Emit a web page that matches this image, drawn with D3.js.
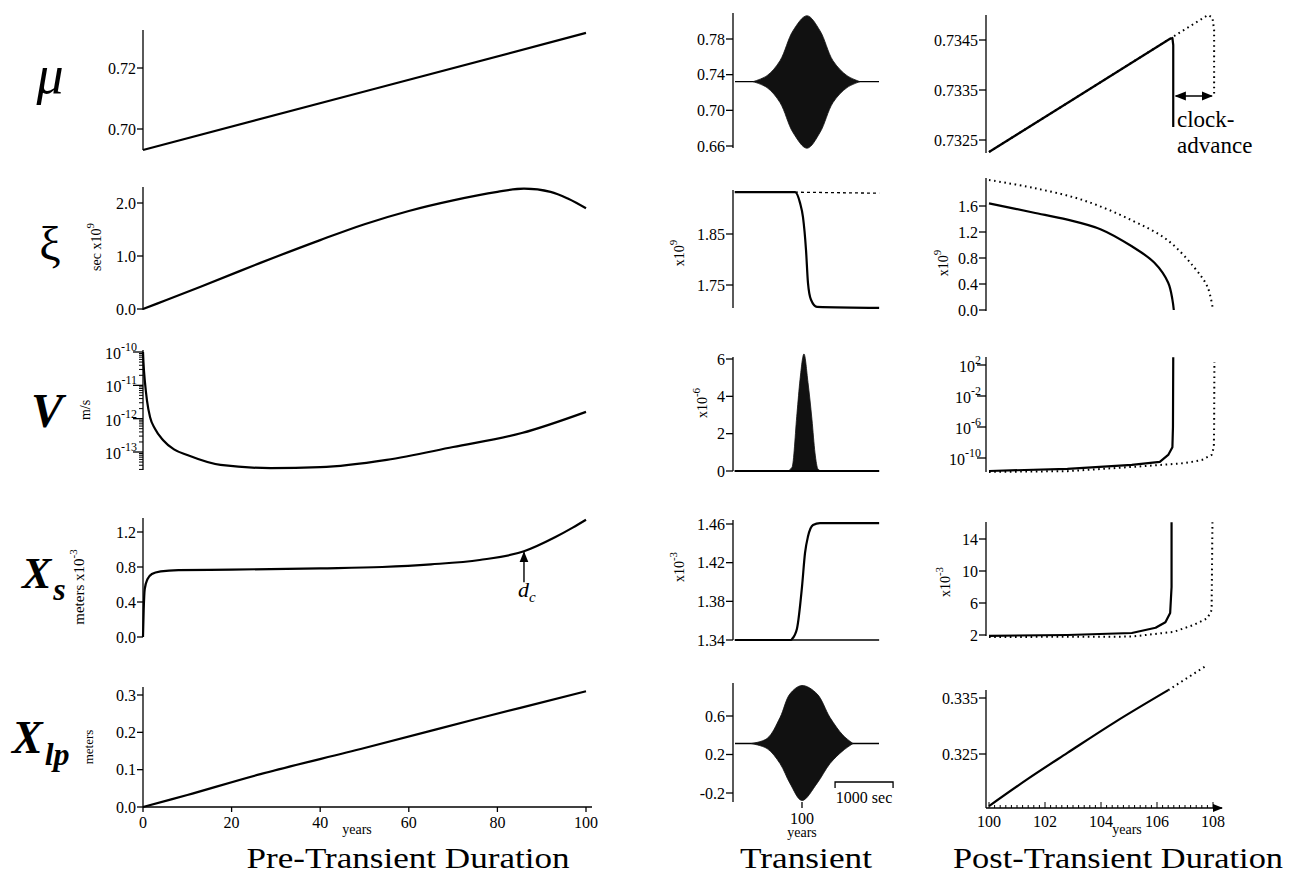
<!DOCTYPE html>
<html lang="en">
<head>
<meta charset="UTF-8" />
<title>Slip transient - pre, during and post</title>
<script src="https://d3js.org/d3.v7.min.js"></script>
<style>
  body { margin: 0; background: #fff; }
  svg { font-family: "Liberation Serif", "Times New Roman", serif; }
  .tick-label { font-size: 16px; fill: #000; }
  .axis-line { stroke: #000; stroke-width: 1.3px; fill: none; }
  .curve { fill: none; stroke: #000; stroke-width: 2.2px; stroke-linejoin: round; }
  .thin { fill: none; stroke: #000; stroke-width: 1.4px; }
  .dotted { fill: none; stroke: #000; stroke-width: 2px; stroke-dasharray: 1.6 3.6; }
  .dashed { fill: none; stroke: #000; stroke-width: 1.3px; stroke-dasharray: 3 3; }
  .osc { fill: #111; stroke: #111; stroke-width: 0.8px; }
</style>
</head>
<body>
<svg id="chart" width="1296" height="879"></svg>
<script>
// ---------------- data ----------------
// pre-transient duration, [years, value]
const muPre = [[0, 0.6931], [50, 0.7123], [100, 0.7315]];
const xiPre = [[0, 0], [5, 0.16], [13, 0.42], [26.5, 0.87], [40, 1.3], [50, 1.6], [60, 1.85],
  [70, 2.05], [80, 2.21], [86, 2.27], [92, 2.21], [96, 2.08], [100, 1.9]];
const vPre = [[0, 1e-10], [0.1, 5e-11], [0.45, 1.2e-11], [0.9, 3.5e-12], [1.6, 1.1e-12],
  [2.7, 5e-13], [4.5, 2.3e-13], [7, 1.2e-13], [10, 8.1e-14], [17.5, 4.1e-14], [28.8, 3.3e-14],
  [40, 3.5e-14], [55, 5.8e-14], [70, 1.41e-13], [85.5, 3.7e-13], [100, 1.6e-12]];
const xsPre = [[0, 0], [0.15, 0.3], [0.4, 0.55], [1, 0.66], [2, 0.72], [4, 0.75], [8, 0.765],
  [20, 0.77], [40, 0.785], [54, 0.8], [65, 0.83], [76, 0.88], [86, 0.98], [93, 1.14],
  [97, 1.25], [100, 1.34]];
const xlpPre = [[0, 0], [10, 0.032], [26.5, 0.088], [50, 0.158], [75, 0.235], [100, 0.31]];
const dcYear = 86;

// transient, seconds around the 100 year mark, [sec, lower, upper] for oscillation envelopes
const muTrBase = 0.7322;
const muTrEnvelope = [[-845, 0.7322, 0.7322], [-603, 0.7255, 0.7389], [-379, 0.7087, 0.7557],
  [-155, 0.6751, 0.7893], [86, 0.6575, 0.8061], [310, 0.6751, 0.7893], [534, 0.7087, 0.7557],
  [776, 0.7255, 0.7389], [1000, 0.7322, 0.7322]];
const xiTr = [[-1160, 1.932], [-121, 1.932], [-34, 1.911], [17, 1.883], [69, 1.819],
  [103, 1.754], [155, 1.721], [259, 1.707], [1330, 1.705]];
const xiTrNoSlip = [[-121, 1.932], [1330, 1.93]];
const vTr = [[-1160, 0], [-260, 0], [-172, 0.2], [-86, 3.1], [-34, 4.9], [34, 6.27], [103, 4.75],
  [172, 2.75], [224, 0.97], [276, 0.1], [340, 0], [1330, 0]];
const xsTr = [[-1160, 1.34], [-190, 1.34], [-172, 1.341], [-86, 1.352], [0, 1.395], [52, 1.43],
  [103, 1.447], [190, 1.459], [310, 1.461], [1330, 1.461]];
const xsTrNoSlip = [[-190, 1.34], [1330, 1.34]];
const xlpTrBase = 0.314;
const xlpTrEnvelope = [[-880, 0.314, 0.314], [-603, 0.262, 0.366], [-379, 0.106, 0.584],
  [-207, -0.1, 0.83], [0, -0.278, 0.917], [259, -0.1, 0.83], [483, 0.106, 0.584],
  [707, 0.24, 0.4], [880, 0.314, 0.314]];

// post-transient duration, [years, value]; solid = with transient, dotted = without
const muPost = [[100, 0.73226], [103, 0.73331], [106.45, 0.73452], [106.55, 0.73454],
  [106.58, 0.7344], [106.58, 0.73276]];
const muPostNo = [[100, 0.73226], [103, 0.73331], [106.5, 0.73454], [107.82, 0.735],
  [107.98, 0.73495], [108.04, 0.7347], [108.04, 0.73336]];
const xiPost = [[100, 1.64], [101.57, 1.5], [102.8, 1.39], [104, 1.24], [105.1, 0.98],
  [105.9, 0.73], [106.4, 0.42], [106.55, 0.16], [106.6, 0]];
const xiPostNo = [[100, 2.0], [101.57, 1.88], [103.36, 1.69], [105.1, 1.38], [106.36, 1.08],
  [107.3, 0.67], [107.8, 0.36], [108.0, 0]];
const vPost = [[100, 2.1e-12], [102.8, 4e-12], [105.1, 1.3e-11], [106.1, 3.2e-11],
  [106.4, 2.5e-10], [106.55, 2.5e-9], [106.57, 1e-6], [106.58, 1e3]];
const vPostNo = [[100, 1.6e-12], [102.8, 2e-12], [105.1, 7e-12], [107, 2.2e-11],
  [107.6, 5.5e-11], [107.95, 2.5e-10], [108.03, 2.5e-9], [108.04, 1e-6], [108.05, 2.5e2]];
const xsPost = [[100, 1.9], [102.8, 2.0], [105.1, 2.25], [105.95, 2.9], [106.3, 3.6],
  [106.47, 4.75], [106.52, 8], [106.52, 16.1]];
const xsPostNo = [[100, 1.75], [105.1, 1.8], [106.6, 2.4], [107.3, 3.25], [107.8, 4.1],
  [107.95, 5.1], [107.98, 16.1]];
const xlpPost = [[100, 0.3157], [101.4, 0.3206], [102.8, 0.3252], [104.5, 0.3307], [106.4, 0.3364]];
const xlpPostNo = [[106.4, 0.3364], [107.8, 0.3409]];

// tick values
const yearTicksPre = [0, 20, 40, 60, 80, 100];
const yearTicksPost = [100, 102, 104, 106, 108];
const muPreTicks = [0.70, 0.72];
const xiPreTicks = [0.0, 1.0, 2.0];
const vPreTicks = [1e-13, 1e-12, 1e-11, 1e-10];
const xsPreTicks = [0.0, 0.4, 0.8, 1.2];
const xlpPreTicks = [0.0, 0.1, 0.2, 0.3];
const muTrTicks = [0.66, 0.70, 0.74, 0.78];
const xiTrTicks = [1.75, 1.85];
const vTrTicks = [0, 2, 4, 6];
const xsTrTicks = [1.34, 1.38, 1.42, 1.46];
const xlpTrTicks = [-0.2, 0.2, 0.6];
const muPostTicks = [0.7325, 0.7335, 0.7345];
const xiPostTicks = [0.0, 0.4, 0.8, 1.2, 1.6];
const vPostTicks = [1e-10, 1e-6, 1e-2, 1e2];
const xsPostTicks = [2, 6, 10, 14];
const xlpPostTicks = [0.325, 0.335];

// ---------------- drawing ----------------
const svg = d3.select("#chart");

const xPre = d3.scaleLinear().domain([0, 100]).range([143, 586]);
const xTr = d3.scaleLinear().domain([0, 1000]).range([802, 860]);
const xPost = d3.scaleLinear().domain([100, 108]).range([989, 1213]);

const dash = s => s.replace("\u2212", "-");
const f1 = d => dash(d3.format(".1f")(d));
const f2 = d3.format(".2f");

function yAxis(axisX, y, ext, ticks, fmt, tl, log) {
  const g = svg.append("g");
  g.append("line").attr("class", "axis-line")
    .attr("x1", axisX).attr("x2", axisX).attr("y1", ext[0]).attr("y2", ext[1]);
  ticks.forEach(t => {
    g.append("line").attr("class", "axis-line")
      .attr("x1", axisX - tl).attr("x2", axisX).attr("y1", y(t)).attr("y2", y(t));
    if (log) {
      const e = Math.round(Math.log10(t));
      const txt = g.append("text").attr("class", "tick-label").attr("text-anchor", "end")
        .attr("x", axisX - tl + 4).attr("y", y(t) + 7);
      txt.append("tspan").text("10");
      txt.append("tspan").attr("dy", -8).style("font-size", "12px").text(e);
    } else {
      g.append("text").attr("class", "tick-label").attr("text-anchor", "end")
        .attr("x", axisX - tl - 1).attr("y", y(t) + 5.5).text(fmt(t));
    }
  });
  return g;
}

function plot(data, x, y, cls, curve) {
  const line = d3.line().x(d => x(d[0])).y(d => y(d[1]))
    .curve(curve || d3.curveCatmullRom.alpha(0.5));
  svg.append("path").datum(data).attr("class", cls).attr("d", line);
}

function envelope(data, base, x, y) {
  const area = d3.area().x(d => x(d[0])).y0(d => y(d[1])).y1(d => y(d[2]))
    .curve(d3.curveCatmullRom.alpha(0.5));
  plot([[x.invert(735), base], [x.invert(879), base]], x, y, "thin", d3.curveLinear);
  svg.append("path").datum(data).attr("class", "osc").attr("d", area);
}

function unitLabel(x, y, parts, size) {
  const t = svg.append("text").attr("transform", `translate(${x},${y}) rotate(-90)`)
    .attr("text-anchor", "middle").style("font-size", size + "px");
  parts.forEach(p => t.append("tspan").attr("dy", p.dy || 0)
    .style("font-size", (p.size || size) + "px").text(p.text));
}

// ---- pre-transient column ----
const yMuPre = d3.scaleLinear().domain([0.70, 0.72]).range([129, 68]);
yAxis(143, yMuPre, [30, 150], muPreTicks, f2, 6);
plot(muPre, xPre, yMuPre, "curve", d3.curveLinear);

const yXiPre = d3.scaleLinear().domain([0, 2]).range([309, 203]);
yAxis(143, yXiPre, [187, 310], xiPreTicks, f1, 6);
plot(xiPre, xPre, yXiPre, "curve");

const yVPre = d3.scaleLog().domain([1e-13, 1e-10]).range([452, 352]);
yAxis(143, yVPre, [350, 470], vPreTicks, null, 10, true);
for (let e = -14; e < -10; e++) {
  for (let k = 2; k <= 9; k++) {
    const v = k * Math.pow(10, e), yy = yVPre(v);
    if (yy <= 470 && yy >= 350) {
      svg.append("line").attr("class", "axis-line").style("stroke-width", "1px")
        .attr("x1", 139).attr("x2", 143).attr("y1", yy).attr("y2", yy);
    }
  }
}
plot(vPre, xPre, yVPre, "curve", d3.curveMonotoneX);

const yXsPre = d3.scaleLinear().domain([0, 1.2]).range([637, 532]);
yAxis(143, yXsPre, [518, 637], xsPreTicks, f1, 6);
plot(xsPre, xPre, yXsPre, "curve", d3.curveMonotoneX);

// d_c marker on the slip curve
const dcY = yXsPre(d3.scaleLinear().domain(xsPre.map(d => d[0])).range(xsPre.map(d => d[1]))(dcYear));
svg.append("defs").html(
  '<marker id="ah" viewBox="0 0 10 10" refX="9" refY="5" markerWidth="8" markerHeight="8" orient="auto-start-reverse">' +
  '<path d="M0,1 L10,5 L0,9 Z" fill="#000"/></marker>');
svg.append("line").attr("class", "thin").attr("x1", xPre(dcYear)).attr("x2", xPre(dcYear))
  .attr("y1", dcY + 31).attr("y2", dcY + 1).attr("marker-end", "url(#ah)");
const dc = svg.append("text").attr("x", xPre(dcYear) - 6).attr("y", dcY + 46)
  .style("font-size", "22px").style("font-style", "italic");
dc.append("tspan").text("d");
dc.append("tspan").attr("dy", 5).style("font-size", "15px").text("c");

const yXlpPre = d3.scaleLinear().domain([0, 0.3]).range([807, 695]);
yAxis(143, yXlpPre, [687, 807], xlpPreTicks, f1, 6);
plot(xlpPre, xPre, yXlpPre, "curve");
svg.append("line").attr("class", "axis-line").attr("x1", 143).attr("x2", 592)
  .attr("y1", 807).attr("y2", 807);
yearTicksPre.forEach(t => {
  svg.append("line").attr("class", "axis-line").attr("x1", xPre(t)).attr("x2", xPre(t))
    .attr("y1", 807).attr("y2", 812);
  svg.append("text").attr("class", "tick-label").attr("text-anchor", "middle")
    .attr("x", xPre(t)).attr("y", 828).text(t);
});
svg.append("text").attr("x", 357).attr("y", 834).attr("text-anchor", "middle")
  .style("font-size", "14px").text("years");

// ---- transient column ----
const yMuTr = d3.scaleLinear().domain([0.66, 0.78]).range([146, 39]);
yAxis(733, yMuTr, [13, 148], muTrTicks, f2, 7);
envelope(muTrEnvelope, muTrBase, xTr, yMuTr);

const yXiTr = d3.scaleLinear().domain([1.75, 1.85]).range([285, 234]);
yAxis(733, yXiTr, [190, 308], xiTrTicks, f2, 7);
plot(xiTrNoSlip, xTr, yXiTr, "dashed", d3.curveLinear);
plot(xiTr, xTr, yXiTr, "curve", d3.curveMonotoneX);

const yVTr = d3.scaleLinear().domain([0, 6]).range([471, 359]);
yAxis(733, yVTr, [357, 471], vTrTicks, d3.format("d"), 7);
svg.append("path").datum(vTr).attr("class", "osc")
  .attr("d", d3.area().x(d => xTr(d[0])).y0(yVTr(0)).y1(d => yVTr(d[1])).curve(d3.curveMonotoneX));
plot([[-1160, 0], [1330, 0]], xTr, yVTr, "curve", d3.curveLinear);

const yXsTr = d3.scaleLinear().domain([1.34, 1.46]).range([640, 524]);
yAxis(733, yXsTr, [520, 640], xsTrTicks, f2, 7);
plot(xsTrNoSlip, xTr, yXsTr, "thin", d3.curveLinear);
plot(xsTr, xTr, yXsTr, "curve", d3.curveMonotoneX);

const yXlpTr = d3.scaleLinear().domain([-0.2, 0.6]).range([793, 716]);
yAxis(733, yXlpTr, [683, 802], xlpTrTicks, f1, 7);
envelope(xlpTrEnvelope, xlpTrBase, xTr, yXlpTr);
svg.append("line").attr("class", "axis-line").attr("x1", xTr(0)).attr("x2", xTr(0))
  .attr("y1", 802).attr("y2", 808);
svg.append("text").attr("class", "tick-label").attr("text-anchor", "middle")
  .attr("x", xTr(0)).attr("y", 824).text("100");
svg.append("text").attr("text-anchor", "middle").attr("x", xTr(0)).attr("y", 837)
  .style("font-size", "14px").text("years");
svg.append("path").attr("class", "axis-line")
  .attr("d", `M${xTr(570)},788V782H${xTr(1570)}V788`);
svg.append("text").attr("text-anchor", "middle").attr("x", xTr(1070)).attr("y", 803)
  .style("font-size", "16px").text("1000 sec");

// ---- post-transient column ----
const yMuPost = d3.scaleLinear().domain([0.7325, 0.7345]).range([140, 40]);
yAxis(986, yMuPost, [15, 153], muPostTicks, d3.format(".4f"), 7);
plot(muPostNo, xPost, yMuPost, "dotted", d3.curveLinear);
plot(muPost, xPost, yMuPost, "curve", d3.curveLinear);
svg.append("line").attr("class", "thin")
  .attr("x1", xPost(106.6) + 2).attr("x2", xPost(108.03) - 2)
  .attr("y1", 96).attr("y2", 96)
  .attr("marker-start", "url(#ah)").attr("marker-end", "url(#ah)");
svg.append("text").attr("x", 1177).attr("y", 127).style("font-size", "23px").text("clock-");
svg.append("text").attr("x", 1177).attr("y", 153).style("font-size", "23px").text("advance");

const yXiPost = d3.scaleLinear().domain([0, 1.6]).range([310, 206]);
yAxis(986, yXiPost, [178, 311], xiPostTicks, f1, 7);
plot(xiPostNo, xPost, yXiPost, "dotted");
plot(xiPost, xPost, yXiPost, "curve");

const yVPost = d3.scaleLog().domain([1e-10, 1e2]).range([458, 365]);
yAxis(986, yVPost, [357, 472], vPostTicks, null, 9, true);
plot(vPostNo, xPost, yVPost, "dotted", d3.curveLinear);
plot(vPost, xPost, yVPost, "curve", d3.curveLinear);

const yXsPost = d3.scaleLinear().domain([2, 14]).range([635, 539]);
yAxis(986, yXsPost, [522, 636], xsPostTicks, d3.format("d"), 7);
plot(xsPostNo, xPost, yXsPost, "dotted", d3.curveLinear);
plot(xsPost, xPost, yXsPost, "curve", d3.curveLinear);

const yXlpPost = d3.scaleLinear().domain([0.325, 0.335]).range([754, 698]);
yAxis(986, yXlpPost, [690, 808], xlpPostTicks, d3.format(".3f"), 7);
plot(xlpPostNo, xPost, yXlpPost, "dotted", d3.curveLinear);
plot(xlpPost, xPost, yXlpPost, "curve");
svg.append("line").attr("class", "axis-line").attr("x1", 986).attr("x2", 1222)
  .attr("y1", 808).attr("y2", 808).attr("marker-end", "url(#ah)");
d3.range(100, 108.01, 0.2).forEach(t => {
  const major = Math.abs(t - Math.round(t / 2) * 2) < 1e-6;
  svg.append("line").attr("class", "axis-line").style("stroke-width", "1px")
    .attr("x1", xPost(t)).attr("x2", xPost(t)).attr("y1", 808).attr("y2", major ? 802 : 805);
});
yearTicksPost.forEach(t => {
  svg.append("text").attr("class", "tick-label").attr("text-anchor", "middle")
    .attr("x", xPost(t)).attr("y", 827).text(t);
});
svg.append("text").attr("x", 1127).attr("y", 834).attr("text-anchor", "middle")
  .style("font-size", "14px").text("years");

// ---- unit labels ----
unitLabel(101, 247, [{text: "sec x10"}, {text: "9", dy: -7, size: 11}], 14);
unitLabel(90, 410, [{text: "m/s"}], 14);
unitLabel(84, 587, [{text: "meters x10"}, {text: "-3", dy: -7, size: 11}], 15);
unitLabel(93, 747, [{text: "meters"}], 13);
unitLabel(684, 253, [{text: "x10", size: 14}, {text: "9", dy: -7, size: 11}], 16);
unitLabel(707, 403, [{text: "x10", size: 14}, {text: "-6", dy: -7, size: 11}], 16);
unitLabel(684, 567, [{text: "x10", size: 14}, {text: "-3", dy: -7, size: 11}], 16);
unitLabel(948, 263, [{text: "x10", size: 14}, {text: "9", dy: -7, size: 11}], 16);
unitLabel(950, 582, [{text: "x10", size: 14}, {text: "-3", dy: -7, size: 11}], 16);

// ---- row symbols ----
svg.append("text").attr("x", 50).attr("y", 93).attr("text-anchor", "middle")
  .style("font-size", "54px").style("font-style", "italic").text("\u03bc");
svg.append("text").attr("x", 50).attr("y", 260).attr("text-anchor", "middle")
  .style("font-size", "48px").text("\u03be");
svg.append("text").attr("x", 47).attr("y", 427).attr("text-anchor", "middle")
  .style("font-size", "48px").style("font-style", "italic").style("font-weight", "bold").text("V");
const xs = svg.append("text").attr("x", 22).attr("y", 588)
  .style("font-style", "italic").style("font-weight", "bold");
xs.append("tspan").style("font-size", "44px").text("X");
xs.append("tspan").attr("dx", 2).attr("dy", 12).style("font-size", "32px").text("s");
const xl = svg.append("text").attr("x", 12).attr("y", 753)
  .style("font-style", "italic").style("font-weight", "bold");
xl.append("tspan").style("font-size", "46px").text("X");
xl.append("tspan").attr("dx", 2).attr("dy", 12).style("font-size", "32px").text("lp");

// ---- column titles ----
[["Pre-Transient Duration", 408, 323], ["Transient", 806, 132], ["Post-Transient Duration", 1118, 330]]
  .forEach(([s, cx, w]) => {
    svg.append("text").attr("x", cx - w / 2).attr("y", 868).attr("textLength", w)
      .attr("lengthAdjust", "spacingAndGlyphs").style("font-size", "30px").text(s);
  });
</script>
</body>
</html>
